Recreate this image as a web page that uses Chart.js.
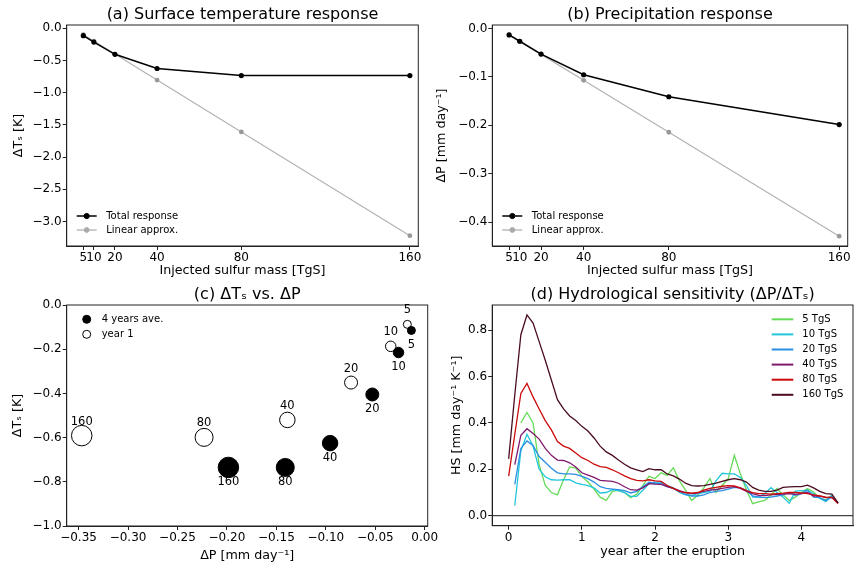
<!DOCTYPE html>
<html>
<head>
<meta charset="utf-8">
<script src="https://cdn.jsdelivr.net/npm/chart.js@4.4.0/dist/chart.umd.min.js"></script>
<style>
  body { margin: 0; background: #fff; }
  #wrap { position: relative; width: 854px; height: 566px; }
  #wrap canvas { position: absolute; left: 0; top: 0; }
</style>
</head>
<body>
<div id="wrap">
  <canvas id="panelA" width="854" height="566"></canvas>
  <canvas id="panelB" width="854" height="566"></canvas>
  <canvas id="panelC" width="854" height="566"></canvas>
  <canvas id="panelD" width="854" height="566"></canvas>
</div>
<script>
// injected sulfur mass [TgS]
const MASS = [5, 10, 20, 40, 80, 160];

// (a) surface temperature response [K], 4-year means
const TS_TOTAL = [-0.115, -0.215, -0.405, -0.625, -0.735, -0.735];
const TS_LINEAR = [-0.100, -0.200, -0.401, -0.805, -1.610, -3.220];

// (b) precipitation response [mm/day], 4-year means
const P_TOTAL = [-0.0135, -0.0265, -0.0530, -0.0957, -0.1410, -0.1985];
const P_LINEAR = [-0.0134, -0.0268, -0.0536, -0.1072, -0.2143, -0.4287];

// (c) first year after the eruption
const P_YEAR1 = [-0.0176, -0.0344, -0.0745, -0.1389, -0.2231, -0.3468];
const TS_YEAR1 = [-0.0875, -0.187, -0.351, -0.520, -0.599, -0.591];

// (d) hydrological sensitivity, monthly, years 0 .. 4.5
const YEARS = Array.from({ length: 55 }, (_, k) => k / 12);
const HS_5 = [null, null, 0.40, 0.445, 0.40, 0.22, 0.13, 0.10, 0.09, 0.155, 0.21, 0.205, 0.17, 0.145, 0.115, 0.08, 0.066, 0.105, 0.109, 0.10, 0.078, 0.093, 0.13, 0.17, 0.16, 0.185, 0.174, 0.207, 0.15, 0.11, 0.066, 0.088, 0.12, 0.16, 0.10, 0.13, 0.16, 0.26, 0.18, 0.11, 0.052, 0.06, 0.066, 0.088, 0.117, 0.09, 0.066, 0.08, 0.10, 0.117, 0.102, 0.075, 0.069, 0.088, 0.054];
const HS_10 = [null, 0.044, 0.28, 0.351, 0.30, 0.20, 0.168, 0.155, 0.153, 0.155, 0.155, 0.142, 0.135, 0.13, 0.12, 0.098, 0.10, 0.112, 0.108, 0.10, 0.083, 0.083, 0.11, 0.138, 0.145, 0.145, 0.13, 0.12, 0.10, 0.09, 0.088, 0.095, 0.10, 0.105, 0.15, 0.183, 0.18, 0.18, 0.165, 0.13, 0.08, 0.08, 0.095, 0.121, 0.10, 0.08, 0.054, 0.106, 0.108, 0.109, 0.095, 0.075, 0.06, 0.088, 0.054];
const HS_20 = [null, 0.135, 0.29, 0.322, 0.303, 0.255, 0.23, 0.205, 0.185, 0.18, 0.18, 0.178, 0.17, 0.16, 0.145, 0.125, 0.118, 0.115, 0.112, 0.108, 0.098, 0.105, 0.125, 0.145, 0.14, 0.138, 0.125, 0.118, 0.105, 0.092, 0.085, 0.085, 0.09, 0.10, 0.105, 0.108, 0.115, 0.122, 0.12, 0.11, 0.085, 0.08, 0.078, 0.08, 0.085, 0.09, 0.10, 0.088, 0.095, 0.11, 0.08, 0.078, 0.065, 0.08, 0.055];
const HS_40 = [null, 0.22, 0.347, 0.375, 0.354, 0.33, 0.29, 0.26, 0.24, 0.238, 0.228, 0.21, 0.185, 0.175, 0.165, 0.152, 0.15, 0.148, 0.14, 0.125, 0.112, 0.11, 0.12, 0.138, 0.136, 0.135, 0.125, 0.118, 0.108, 0.10, 0.095, 0.098, 0.105, 0.11, 0.113, 0.118, 0.122, 0.125, 0.118, 0.105, 0.095, 0.088, 0.087, 0.09, 0.092, 0.093, 0.095, 0.092, 0.095, 0.10, 0.085, 0.085, 0.078, 0.08, 0.055];
const HS_80 = [0.171, 0.35, 0.527, 0.57, 0.512, 0.46, 0.41, 0.37, 0.32, 0.30, 0.29, 0.27, 0.25, 0.238, 0.222, 0.212, 0.208, 0.198, 0.185, 0.172, 0.16, 0.152, 0.15, 0.155, 0.15, 0.148, 0.13, 0.118, 0.105, 0.10, 0.097, 0.10, 0.11, 0.118, 0.122, 0.127, 0.13, 0.128, 0.12, 0.108, 0.10, 0.095, 0.095, 0.093, 0.095, 0.097, 0.10, 0.10, 0.098, 0.095, 0.09, 0.085, 0.08, 0.078, 0.052];
const HS_160 = [0.245, 0.52, 0.78, 0.865, 0.83, 0.75, 0.67, 0.585, 0.50, 0.46, 0.43, 0.41, 0.385, 0.365, 0.335, 0.30, 0.275, 0.26, 0.24, 0.222, 0.206, 0.198, 0.19, 0.203, 0.198, 0.198, 0.18, 0.172, 0.158, 0.14, 0.13, 0.128, 0.13, 0.135, 0.14, 0.148, 0.155, 0.16, 0.155, 0.145, 0.122, 0.11, 0.105, 0.105, 0.11, 0.122, 0.124, 0.125, 0.125, 0.132, 0.12, 0.105, 0.095, 0.093, 0.055];
const HS_LABELS = ['5 TgS', '10 TgS', '20 TgS', '40 TgS', '80 TgS', '160 TgS'];
const HS_SERIES = [HS_5, HS_10, HS_20, HS_40, HS_80, HS_160];
const HS_COLORS = ['#66db58', '#22c6dc', '#2a8ee4', '#80186e', '#cc0a0a', '#4a0c1e'];

// tick labels
const TICKS_MASS = [5, 10, 20, 40, 80, 160];
const TICKS_TS = [0, -0.5, -1, -1.5, -2, -2.5, -3];
const TICKS_P = [0, -0.1, -0.2, -0.3, -0.4];
const TICKS_CX = [-0.35, -0.3, -0.25, -0.2, -0.15, -0.1, -0.05, 0];
const TICKS_CY = [0, -0.2, -0.4, -0.6, -0.8, -1];
const TICKS_YEAR = [0, 1, 2, 3, 4];
const TICKS_HS = [0, 0.2, 0.4, 0.6, 0.8];

Chart.defaults.font.family = '"DejaVu Sans", sans-serif';
Chart.defaults.color = '#000';

const AXIS_W = 60, AXIS_H = 40;

const fmt = d => v => (Math.abs(v) < 1e-9 ? 0 : v).toFixed(d).replace('-', '\u2212');

function axis(min, max, ticks, digits, title, titlePad) {
    return {
        type: 'linear',
        min: min,
        max: max,
        afterBuildTicks: s => { s.ticks = ticks.map(v => ({ value: v })); },
        afterFit: s => {
            if (s.isHorizontal()) s.height = AXIS_H;
            else s.width = AXIS_W;
        },
        ticks: { callback: fmt(digits), autoSkip: false, maxRotation: 0, padding: 1, font: { size: 12 } },
        grid: { drawOnChartArea: false, drawTicks: true, tickLength: 4, color: '#222' },
        border: { display: true, color: '#222', width: 1 },
        title: { display: true, text: title, font: { size: 12.7 }, padding: titlePad }
    };
}

// padding that puts the plot box at the given page rectangle
function boxPadding(l, t, r, b) {
    return { left: l - AXIS_W, top: t, right: 854 - r, bottom: 566 - b - AXIS_H };
}

const radius = m => 4 + 1.25 * Math.log2(m / 5);

const decor = {
    id: 'decor',
    beforeDatasetsDraw(chart, args, o) {
        if (!o.zeroLine) return;
        const { ctx, chartArea: a } = chart;
        const y = chart.scales.y.getPixelForValue(0);
        ctx.save();
        ctx.strokeStyle = '#444';
        ctx.lineWidth = 1.2;
        ctx.beginPath();
        ctx.moveTo(a.left, y);
        ctx.lineTo(a.right, y);
        ctx.stroke();
        ctx.restore();
    },
    afterDraw(chart, args, o) {
        const { ctx, chartArea: a } = chart;
        ctx.save();
        ctx.strokeStyle = '#222';
        ctx.lineWidth = 1;
        ctx.strokeRect(a.left, a.top, a.right - a.left, a.bottom - a.top);

        ctx.fillStyle = '#000';
        ctx.font = '16px "DejaVu Sans"';
        ctx.textAlign = 'center';
        ctx.textBaseline = 'middle';
        ctx.fillText(o.title, (a.left + a.right) / 2, a.top - 10);

        // point labels (panel c)
        (o.pointLabels || []).forEach(pl => {
            const meta = chart.getDatasetMeta(pl.dataset);
            ctx.font = '11.5px "DejaVu Sans"';
            meta.data.forEach((el, j) => {
                ctx.fillText(String(MASS[j]), el.x, el.y + pl.dy);
            });
        });

        // legend
        const lg = o.legend;
        if (lg) {
            ctx.font = '10px "DejaVu Sans"';
            ctx.textAlign = 'left';
            lg.items.forEach((it, i) => {
                const y = lg.y + i * lg.dy;
                if (it.line) {
                    ctx.strokeStyle = it.color;
                    ctx.lineWidth = it.width || 1.5;
                    ctx.beginPath();
                    ctx.moveTo(lg.x, y);
                    ctx.lineTo(lg.x + lg.len, y);
                    ctx.stroke();
                }
                if (it.marker) {
                    ctx.beginPath();
                    ctx.arc(lg.x + lg.len / 2, y, it.r, 0, Math.PI * 2);
                    ctx.fillStyle = it.marker === 'ring' ? '#fff' : it.color;
                    ctx.fill();
                    ctx.strokeStyle = it.color;
                    ctx.lineWidth = 1;
                    ctx.stroke();
                }
                ctx.fillStyle = '#000';
                ctx.fillText(it.text, lg.x + lg.text, y);
            });
        }
        ctx.restore();
    }
};

const base = {
    responsive: false,
    animation: false,
    events: [],
    elements: { line: { tension: 0 } }
};

function pts(xs, ys) {
    return xs.map((x, i) => ({ x: x, y: ys[i] }));
}

function responseChart(id, total, linear, box, yMin, yMax, yTicks, yTitle, yPad, title) {
    return new Chart(document.getElementById(id), {
        type: 'line',
        data: {
            datasets: [{
                label: 'Total response',
                data: pts(MASS, total),
                borderColor: '#000',
                backgroundColor: '#000',
                borderWidth: 1.5,
                pointRadius: 2.6,
                pointBorderWidth: 0
            }, {
                label: 'Linear approx.',
                data: pts(MASS, linear),
                borderColor: '#b3b3b3',
                backgroundColor: '#999',
                borderWidth: 1.2,
                pointRadius: 2.4,
                pointBorderWidth: 0
            }]
        },
        options: Object.assign({}, base, {
            layout: { padding: box },
            scales: {
                x: axis(-2.9, 164, TICKS_MASS, 0, 'Injected sulfur mass [TgS]', { top: 0, bottom: 7.7 }),
                y: axis(yMin, yMax, yTicks, 1, yTitle, { top: yPad, bottom: 0 })
            },
            plugins: {
                legend: { display: false },
                tooltip: { enabled: false },
                decor: {
                    title: title,
                    legend: {
                        x: box.left + AXIS_W + 10, y: 216, dy: 14, len: 20, text: 29.5,
                        items: [
                            { text: 'Total response', color: '#000', line: true, marker: 'dot', r: 2.6 },
                            { text: 'Linear approx.', color: '#aaa', line: true, marker: 'dot', r: 2.4, width: 1.2 }
                        ]
                    }
                }
            }
        }),
        plugins: [decor]
    });
}

document.addEventListener('DOMContentLoaded', () => {
    responseChart('panelA', TS_TOTAL, TS_LINEAR, boxPadding(66.7, 25, 418.3, 246),
        -3.38, 0.05, TICKS_TS, '\u0394T\u209b [K]', 4.2, '(a) Surface temperature response');

    responseChart('panelB', P_TOTAL, P_LINEAR, boxPadding(492.3, 25, 847.7, 246),
        -0.449, 0.007, TICKS_P, '\u0394P [mm day\u207b\u00b9]', 2.0, '(b) Precipitation response');

    // (c) scatter of the two responses
    new Chart(document.getElementById('panelC'), {
        type: 'scatter',
        data: {
            datasets: [{
                label: '4 years ave.',
                data: pts(P_TOTAL, TS_TOTAL),
                backgroundColor: '#000',
                borderColor: '#000',
                borderWidth: 1,
                pointRadius: ctx => radius(MASS[ctx.dataIndex])
            }, {
                label: 'year 1',
                data: pts(P_YEAR1, TS_YEAR1),
                backgroundColor: '#fff',
                borderColor: '#000',
                borderWidth: 1,
                pointRadius: ctx => radius(MASS[ctx.dataIndex])
            }]
        },
        options: Object.assign({}, base, {
            layout: { padding: boxPadding(66.7, 305, 427.7, 526) },
            scales: {
                x: axis(-0.362, 0.003, TICKS_CX, 2, '\u0394P [mm day\u207b\u00b9]', { top: 0, bottom: 2.4 }),
                y: axis(-1, 0, TICKS_CY, 1, '\u0394T\u209b [K]', { top: 3.2, bottom: 0 })
            },
            plugins: {
                legend: { display: false },
                tooltip: { enabled: false },
                decor: {
                    title: '(c) \u0394T\u209b vs. \u0394P',
                    pointLabels: [{ dataset: 0, dy: 15 }, { dataset: 1, dy: -14 }],
                    legend: {
                        x: 76.7, y: 319.3, dy: 15, len: 20, text: 25,
                        items: [
                            { text: '4 years ave.', color: '#000', marker: 'dot', r: 4 },
                            { text: 'year 1', color: '#000', marker: 'ring', r: 4 }
                        ]
                    }
                }
            }
        }),
        plugins: [decor]
    });

    // (d) hydrological sensitivity time series
    new Chart(document.getElementById('panelD'), {
        type: 'line',
        data: {
            datasets: HS_SERIES.map((vals, i) => ({
                label: HS_LABELS[i],
                data: pts(YEARS, vals),
                borderColor: HS_COLORS[i],
                borderWidth: 1.3,
                pointRadius: 0,
                order: HS_SERIES.length - i
            }))
        },
        options: Object.assign({}, base, {
            layout: { padding: boxPadding(492.2, 305, 853, 525.7) },
            scales: {
                x: axis(-0.225, 4.705, TICKS_YEAR, 0, 'year after the eruption', { top: 0, bottom: 6.4 }),
                y: axis(-0.043, 0.908, TICKS_HS, 1, 'HS [mm day\u207b\u00b9 K\u207b\u00b9]', { top: 16.4, bottom: 0 })
            },
            plugins: {
                legend: { display: false },
                tooltip: { enabled: false },
                decor: {
                    title: '(d) Hydrological sensitivity (\u0394P/\u0394T\u209b)',
                    zeroLine: true,
                    legend: {
                        x: 771.7, y: 319.3, dy: 15.1, len: 21.6, text: 30.6,
                        items: HS_LABELS.map((t, i) => ({ text: t, color: HS_COLORS[i], line: true, width: 2 }))
                    }
                }
            }
        }),
        plugins: [decor]
    });
});
</script>
</body>
</html>
